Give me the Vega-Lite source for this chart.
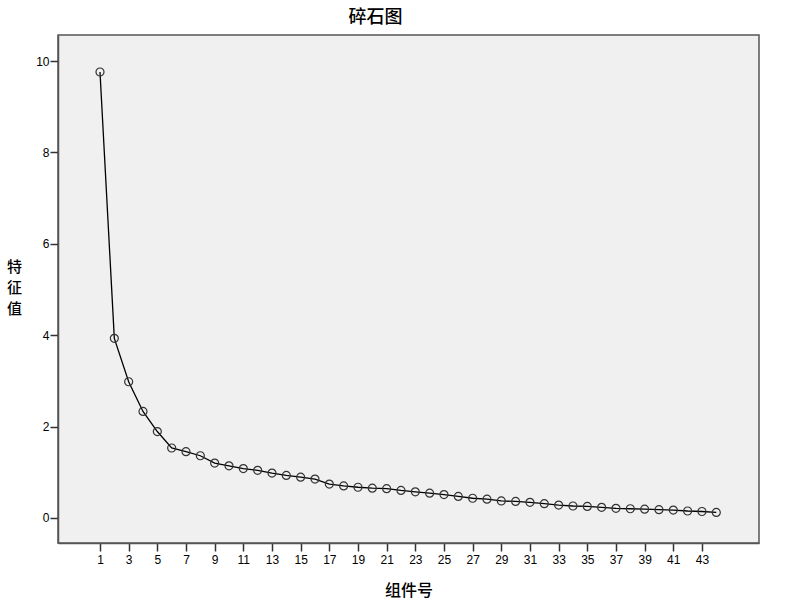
{
  "$schema": "https://vega.github.io/schema/vega-lite/v6.json",
  "width": 701,
  "height": 508,
  "autosize": "none",
  "padding": {"left": 58, "top": 35, "right": 30, "bottom": 73},
  "background": "white",
  "title": {
    "text": "碎石图",
    "font": "Noto Sans CJK SC",
    "fontSize": 18,
    "fontWeight": 500,
    "color": "black",
    "anchor": "middle",
    "frame": "group",
    "dx": -33,
    "offset": 8
  },
  "config": {
    "view": {"fill": "#f0f0f0", "stroke": "#555555", "strokeWidth": 1.5},
    "axis": {
      "grid": false,
      "domainColor": "#555555",
      "domainWidth": 1.5,
      "tickColor": "#333333",
      "tickWidth": 1.5,
      "tickSize": 8,
      "labelFont": "Liberation Sans",
      "labelFontSize": 12,
      "labelColor": "black",
      "titleFont": "Noto Sans CJK SC",
      "titleFontSize": 16,
      "titleFontWeight": 500,
      "titleColor": "black"
    }
  },
  "data": {
    "values": [
      {"component": 1, "eigenvalue": 9.76},
      {"component": 2, "eigenvalue": 3.93},
      {"component": 3, "eigenvalue": 2.98},
      {"component": 4, "eigenvalue": 2.33},
      {"component": 5, "eigenvalue": 1.89},
      {"component": 6, "eigenvalue": 1.53},
      {"component": 7, "eigenvalue": 1.45},
      {"component": 8, "eigenvalue": 1.36},
      {"component": 9, "eigenvalue": 1.2},
      {"component": 10, "eigenvalue": 1.14},
      {"component": 11, "eigenvalue": 1.08},
      {"component": 12, "eigenvalue": 1.04},
      {"component": 13, "eigenvalue": 0.98},
      {"component": 14, "eigenvalue": 0.93},
      {"component": 15, "eigenvalue": 0.89},
      {"component": 16, "eigenvalue": 0.85},
      {"component": 17, "eigenvalue": 0.74},
      {"component": 18, "eigenvalue": 0.7},
      {"component": 19, "eigenvalue": 0.67},
      {"component": 20, "eigenvalue": 0.65},
      {"component": 21, "eigenvalue": 0.64},
      {"component": 22, "eigenvalue": 0.6},
      {"component": 23, "eigenvalue": 0.57},
      {"component": 24, "eigenvalue": 0.54},
      {"component": 25, "eigenvalue": 0.51},
      {"component": 26, "eigenvalue": 0.47},
      {"component": 27, "eigenvalue": 0.43},
      {"component": 28, "eigenvalue": 0.41},
      {"component": 29, "eigenvalue": 0.37},
      {"component": 30, "eigenvalue": 0.36},
      {"component": 31, "eigenvalue": 0.34},
      {"component": 32, "eigenvalue": 0.31},
      {"component": 33, "eigenvalue": 0.28},
      {"component": 34, "eigenvalue": 0.26},
      {"component": 35, "eigenvalue": 0.25},
      {"component": 36, "eigenvalue": 0.23},
      {"component": 37, "eigenvalue": 0.21},
      {"component": 38, "eigenvalue": 0.2},
      {"component": 39, "eigenvalue": 0.19},
      {"component": 40, "eigenvalue": 0.18},
      {"component": 41, "eigenvalue": 0.17},
      {"component": 42, "eigenvalue": 0.15},
      {"component": 43, "eigenvalue": 0.14},
      {"component": 44, "eigenvalue": 0.12}
    ]
  },
  "encoding": {
    "x": {
      "field": "component",
      "type": "quantitative",
      "scale": {"domain": [-1.93, 46.98], "nice": false, "zero": false},
      "axis": {
        "title": "组件号",
        "values": [1, 3, 5, 7, 9, 11, 13, 15, 17, 19, 21, 23, 25, 27, 29, 31, 33, 35, 37, 39, 41, 43],
        "format": "d",
        "labelPadding": 3,
        "labelFlush": false,
        "labelOverlap": false,
        "titleY": 47,
        "titleBaseline": "middle"
      }
    },
    "y": {
      "field": "eigenvalue",
      "type": "quantitative",
      "scale": {"domain": [-0.55, 10.57], "nice": false, "zero": false},
      "axis": {
        "title": ["特", "征", "值"],
        "values": [0, 2, 4, 6, 8, 10],
        "format": "d",
        "labelPadding": 1,
        "titleAngle": 0,
        "titleAlign": "center",
        "titleBaseline": "top",
        "titleFontSize": 15,
        "titleX": -44,
        "titleY": 224,
        "titleLineHeight": 21
      }
    }
  },
  "layer": [
    {
      "mark": {"type": "line", "color": "black", "strokeWidth": 1.3}
    },
    {
      "mark": {"type": "point", "shape": "circle", "size": 64, "filled": false, "stroke": "#333333", "strokeWidth": 1.2, "fill": "#f0f0f0", "fillOpacity": 0, "opacity": 1}
    }
  ]
}
